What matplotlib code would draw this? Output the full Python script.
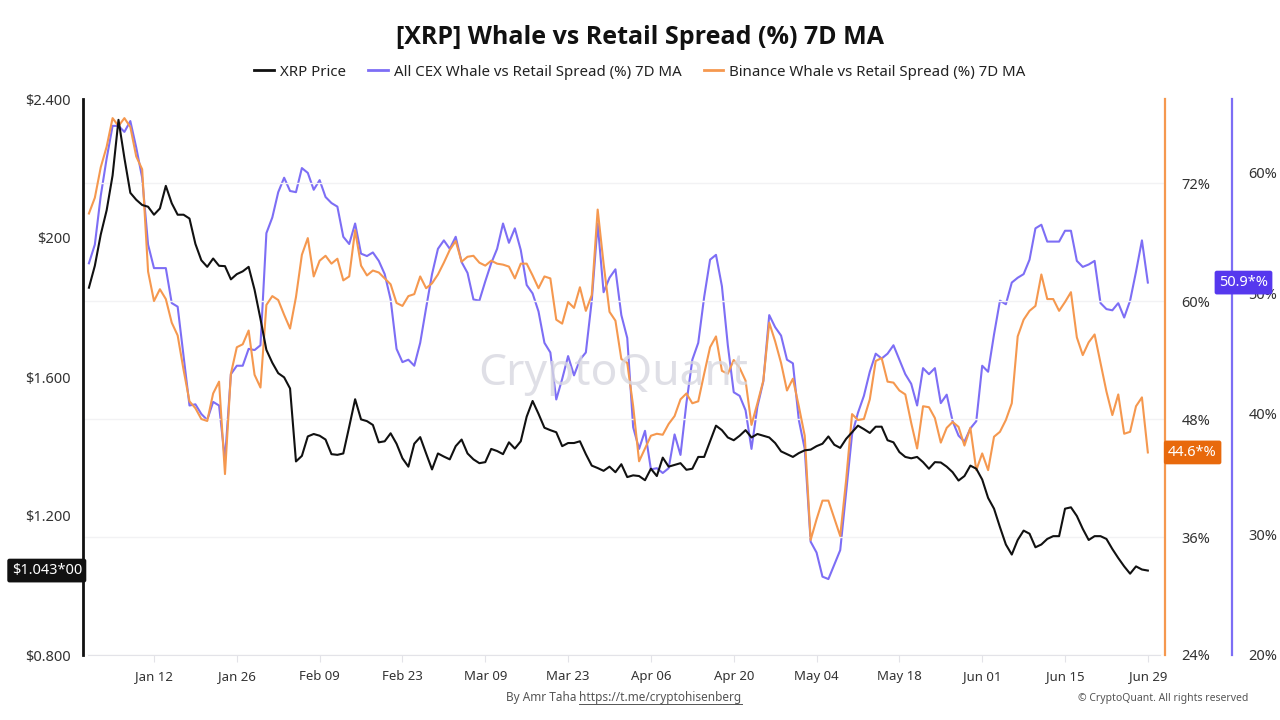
import matplotlib
matplotlib.use("Agg")
import matplotlib.pyplot as plt
import matplotlib.dates as mdates
import matplotlib.transforms as mtransforms
import pandas as pd

plt.rcParams['font.family'] = ['Noto Sans', 'DejaVu Sans']

# --- data: daily values, Jan 01 -> Jun 29 ---
start_date = "2025-01-01"

xrp_price = [
    1.857, 1.92, 2.01, 2.08, 2.18, 2.34, 2.23, 2.13, 2.11, 2.095,
    2.09, 2.067, 2.085, 2.15, 2.10, 2.067, 2.067, 2.056, 1.983, 1.936,
    1.917, 1.941, 1.92, 1.919, 1.881, 1.896, 1.904, 1.917, 1.851, 1.767,
    1.678, 1.641, 1.611, 1.599, 1.567, 1.357, 1.373, 1.429, 1.436, 1.431,
    1.420, 1.378, 1.376, 1.380, 1.457, 1.536, 1.478, 1.473, 1.462, 1.412,
    1.415, 1.438, 1.408, 1.366, 1.342, 1.408, 1.427, 1.380, 1.334, 1.380,
    1.371, 1.363, 1.401, 1.420, 1.380, 1.363, 1.352, 1.355, 1.393, 1.387,
    1.378, 1.412, 1.394, 1.415, 1.486, 1.531, 1.494, 1.454, 1.447, 1.441,
    1.401, 1.410, 1.410, 1.415, 1.378, 1.345, 1.338, 1.330, 1.342, 1.326,
    1.349, 1.312, 1.317, 1.315, 1.303, 1.336, 1.315, 1.368, 1.342, 1.347,
    1.352, 1.333, 1.336, 1.370, 1.370, 1.415, 1.460, 1.447, 1.426, 1.418,
    1.431, 1.447, 1.426, 1.436, 1.431, 1.426, 1.410, 1.386, 1.378, 1.370,
    1.381, 1.389, 1.391, 1.401, 1.408, 1.429, 1.405, 1.396, 1.422, 1.441,
    1.460, 1.450, 1.439, 1.457, 1.457, 1.418, 1.412, 1.384, 1.370, 1.366,
    1.370, 1.355, 1.336, 1.355, 1.354, 1.342, 1.326, 1.302, 1.315, 1.345,
    1.336, 1.305, 1.252, 1.221, 1.168, 1.118, 1.089, 1.131, 1.158, 1.149,
    1.110, 1.118, 1.134, 1.142, 1.142, 1.221, 1.225, 1.200, 1.163, 1.131,
    1.142, 1.142, 1.134, 1.105, 1.079, 1.055, 1.034, 1.055, 1.046, 1.043,
]

all_cex_spread = [
    52.5, 54.05, 58.1, 61.2, 63.9, 63.9, 63.4, 64.3, 62.1, 59.6,
    54.05, 52.1, 52.1, 52.1, 49.2, 48.9, 44.8, 40.7, 40.8, 40.0,
    39.5, 41.0, 40.7, 36.2, 43.3, 44.0, 44.0, 45.4, 45.3, 45.7,
    55.0, 56.3, 58.4, 59.6, 58.5, 58.4, 60.4, 60.0, 58.6, 59.4,
    58.0, 57.5, 57.2, 54.7, 54.1, 55.8, 53.3, 53.1, 53.4, 52.7,
    51.6, 49.5, 45.4, 44.3, 44.5, 44.0, 45.9, 48.8, 51.6, 53.7,
    54.4, 53.7, 54.7, 52.6, 51.7, 49.5, 49.4, 51.0, 52.5, 53.7,
    55.8, 54.2, 55.4, 53.6, 50.7, 50.0, 48.5, 45.9, 45.1, 41.2,
    42.9, 44.8, 43.2, 44.5, 45.1, 49.4, 55.8, 50.1, 51.3, 52.0,
    48.2, 46.3, 38.9, 37.1, 38.6, 35.4, 35.5, 35.1, 35.5, 38.3,
    36.6, 40.9, 44.5, 45.9, 49.7, 52.8, 53.2, 50.6, 45.7, 41.8,
    41.5, 40.3, 37.1, 40.6, 42.7, 48.2, 47.2, 46.5, 44.5, 44.2,
    39.5, 37.1, 29.4, 28.5, 26.5, 26.3, 27.5, 28.7, 33.5, 38.3,
    40.1, 41.5, 43.5, 45.0, 44.6, 45.0, 45.7, 44.5, 43.3, 42.5,
    40.7, 43.8, 43.3, 43.8, 40.9, 41.6, 39.4, 38.2, 37.7, 38.8,
    39.4, 44.0, 43.5, 46.6, 49.4, 49.1, 50.9, 51.3, 51.6, 52.8,
    55.4, 55.7, 54.3, 54.3, 54.3, 55.2, 55.2, 52.7, 52.2, 52.4,
    52.7, 49.2, 48.7, 48.6, 49.2, 48.0, 49.4, 51.8, 54.4, 50.9,
]

binance_spread = [
    68.9, 70.5, 73.6, 75.7, 78.6, 77.8, 78.6, 77.7, 74.7, 73.4,
    63.0, 60.0, 61.2, 60.2, 57.8, 56.5, 53.0, 49.8, 49.1, 48.0,
    47.8, 50.6, 51.8, 42.4, 52.6, 55.3, 55.6, 57.0, 52.5, 51.2,
    59.6, 60.5, 60.1, 58.6, 57.2, 60.4, 64.7, 66.4, 62.5, 64.1,
    64.6, 63.8, 64.3, 62.1, 62.5, 67.2, 63.6, 62.6, 63.1, 62.9,
    62.3, 61.7, 59.8, 59.5, 60.5, 60.7, 62.5, 61.3, 61.8, 62.7,
    63.9, 65.2, 66.1, 64.0, 64.5, 64.6, 63.9, 63.6, 64.1, 63.8,
    63.7, 63.5, 62.3, 63.8, 63.8, 62.6, 61.3, 62.5, 62.3, 58.1,
    57.7, 59.9, 59.3, 61.4, 59.0, 60.6, 69.3, 63.8, 58.9, 58.0,
    54.1, 53.7, 49.3, 43.7, 45.0, 46.3, 46.5, 46.4, 47.5, 48.3,
    50.0, 50.6, 49.6, 49.8, 52.6, 55.3, 56.4, 52.9, 52.6, 54.0,
    53.2, 51.9, 47.4, 49.6, 51.9, 57.8, 55.9, 53.7, 50.9, 52.1,
    49.3, 46.3, 35.7, 37.8, 39.7, 39.7, 37.9, 36.1, 41.8, 48.5,
    47.9, 48.0, 50.0, 53.9, 54.2, 51.8, 51.7, 50.9, 50.5, 47.6,
    45.0, 49.3, 49.2, 48.1, 45.6, 47.1, 47.7, 47.2, 45.3, 47.1,
    42.8, 44.5, 42.8, 46.2, 46.7, 47.9, 49.6, 56.4, 58.1, 59.0,
    59.5, 62.7, 60.2, 60.2, 59.0, 59.9, 60.9, 56.3, 54.5, 55.8,
    56.6, 53.7, 50.8, 48.4, 50.5, 46.5, 46.7, 49.3, 50.2, 44.6,
]

price_ticks = [0.8, 1.2, 1.6, 2.0, 2.4]
price_labels = ["$0.800", "$1.200", "$1.600", "$200", "$2.400"]
binance_ticks = [24, 36, 48, 60, 72]
cex_ticks = [20, 30, 40, 50, 60]

dates = pd.date_range(start_date, periods=len(xrp_price), freq="D")

BLACK = "#111111"
PURPLE = "#7d6ef5"
ORANGE = "#f5984f"
LABEL_C = "#333333"

fig = plt.figure(figsize=(12.8, 7.2), dpi=100)
ax = fig.add_axes([83 / 1280, 1 - 655 / 720, (1165 - 83) / 1280, (655 - 99) / 720])
ax_b = ax.twinx()
ax_c = ax.twinx()

# lines (purple under orange under black)
ax_c.plot(dates, all_cex_spread, color=PURPLE, lw=1.5, zorder=2)
ax_b.plot(dates, binance_spread, color=ORANGE, lw=1.5, zorder=2)
ax.plot(dates, xrp_price, color=BLACK, lw=1.5, zorder=3)
ax.set_zorder(ax_c.get_zorder() + 2)
ax_b.set_zorder(ax_c.get_zorder() + 1)
ax.patch.set_visible(False)
ax_b.patch.set_visible(False)

# x axis
x0 = mdates.date2num(dates[0])
ax.set_xlim(x0 - 1.0, x0 + 181.9)
tick_dates = pd.date_range("2025-01-12", "2025-06-29", freq="14D")
ax.set_xticks(tick_dates)
ax.xaxis.set_major_formatter(mdates.DateFormatter("%b %d"))
ax.tick_params(axis="x", length=5, color="#e3e3e8", labelsize=9.5, labelcolor=LABEL_C, pad=6)

# left axis: price
ax.set_ylim(0.8, 2.4)
ax.set_yticks(price_ticks)
ax.set_yticklabels(price_labels)
ax.tick_params(axis="y", length=0, labelsize=10.5, labelcolor=LABEL_C, pad=9)

# orange axis
ax_b.set_ylim(24, 72 + 84 / 9.83)
ax_b.set_yticks(binance_ticks)
ax_b.set_yticklabels([f"{v}%" for v in binance_ticks])
ax_b.tick_params(axis="y", length=0, labelsize=10.5, labelcolor=LABEL_C, pad=12)
ax_b.yaxis.grid(True, color="#f2f2f4", lw=1)

# purple axis
ax_c.set_ylim(20, 60 + 74 / 12.07)
ax_c.set_yticks(cex_ticks)
ax_c.set_yticklabels([f"{v}%" for v in cex_ticks])
ax_c.tick_params(axis="y", length=0, labelsize=10.5, labelcolor=LABEL_C, pad=12)
ax_c.spines["right"].set_position(("outward", 48))

for a in (ax, ax_b, ax_c):
    a.spines["top"].set_visible(False)
for a in (ax_b, ax_c):
    a.spines["left"].set_visible(False)
    a.spines["bottom"].set_visible(False)
ax.spines["right"].set_visible(False)
ax.spines["left"].set_color(BLACK)
ax.spines["left"].set_linewidth(2)
ax.spines["bottom"].set_color("#e3e3e8")
ax.spines["bottom"].set_bounds(x0 - 0.2, x0 + 181)
ax_b.spines["right"].set_color(ORANGE)
ax_b.spines["right"].set_linewidth(1.6)
ax_c.spines["right"].set_color(PURPLE)
ax_c.spines["right"].set_linewidth(1.6)

# last-value labels
tr_left = mtransforms.blended_transform_factory(ax.transAxes, ax.transData)
ax.text(-0.001, xrp_price[-1], "$1.043*00", transform=tr_left, ha="right", va="center",
        fontsize=10.5, color="white", clip_on=False, zorder=10,
        bbox=dict(boxstyle="round,pad=0.3,rounding_size=0.15", fc="#111111", ec="none"))
tr_b = mtransforms.blended_transform_factory(ax_b.transAxes, ax_b.transData)
ax_b.text(1.003, binance_spread[-1], f"{binance_spread[-1]}*%", transform=tr_b, ha="left", va="center",
          fontsize=10.5, color="white", clip_on=False, zorder=10,
          bbox=dict(boxstyle="round,pad=0.3,rounding_size=0.15", fc="#e8690c", ec="none"))
tr_c = mtransforms.blended_transform_factory(ax_c.transAxes, ax_c.transData)
ax_c.text(1.0 + 54 / 1082, all_cex_spread[-1], f"{all_cex_spread[-1]}*%", transform=tr_c, ha="left",
          va="center", fontsize=10.5, color="white", clip_on=False, zorder=10,
          bbox=dict(boxstyle="round,pad=0.3,rounding_size=0.15", fc="#5638ee", ec="none"))

# watermark
ax.text(0.49, 0.505, "CryptoQuant", transform=ax.transAxes, ha="center", va="center",
        fontsize=32, color="#d8d8e0", alpha=0.8, zorder=0)

# title + legend
fig.text(0.5, 1 - 37 / 720, "[XRP] Whale vs Retail Spread (%) 7D MA", ha="center", va="center",
         fontsize=18, fontweight="bold", color="#111111",
         family=["Open Sans", "Lato", "DejaVu Sans"])
handles = [
    plt.Line2D([], [], color=BLACK, lw=2),
    plt.Line2D([], [], color=PURPLE, lw=2),
    plt.Line2D([], [], color=ORANGE, lw=2),
]
fig.legend(handles, ["XRP Price", "All CEX Whale vs Retail Spread (%) 7D MA",
                     "Binance Whale vs Retail Spread (%) 7D MA"],
           loc="center", bbox_to_anchor=(0.5, 1 - 72 / 720), ncol=3, frameon=False,
           fontsize=10.8, handlelength=1.3, handletextpad=0.4, columnspacing=1.5,
           labelcolor="#222222")

# footer
fig.text(506 / 1280, 1 - 698 / 720, "By Amr Taha ", ha="left", va="center", fontsize=8.5, color="#555555")
fig.text(579 / 1280, 1 - 698 / 720, "https://t.me/cryptohisenberg", ha="left", va="center",
         fontsize=8.5, color="#555555")
fig.lines.append(plt.Line2D([579 / 1280, 742 / 1280], [1 - 704 / 720, 1 - 704 / 720],
                            transform=fig.transFigure, color="#555555", lw=0.7))
fig.text(1248 / 1280, 1 - 698 / 720, "© CryptoQuant. All rights reserved", ha="right", va="center",
         fontsize=7.5, color="#555555")

fig.savefig("out.png", dpi=100)
